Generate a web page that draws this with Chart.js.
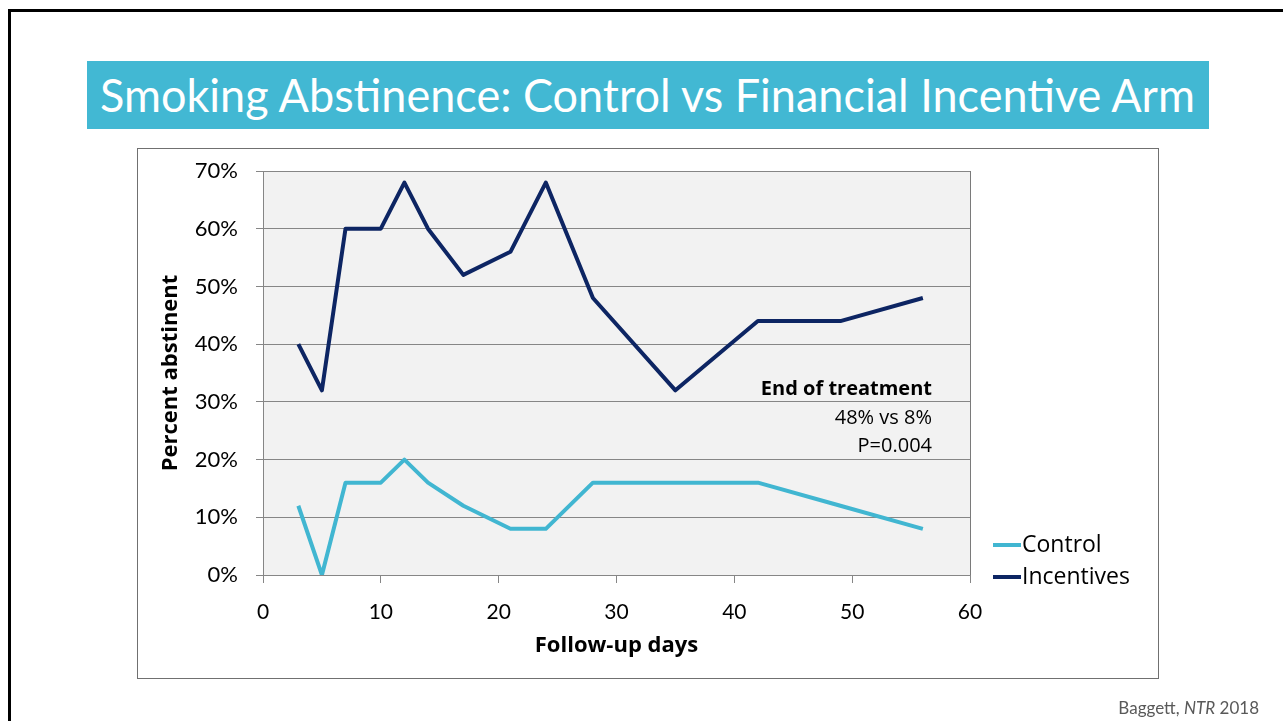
<!DOCTYPE html>
<html>
<head>
<meta charset="utf-8">
<title>Smoking Abstinence: Control vs Financial Incentive Arm</title>
<script src="https://cdn.jsdelivr.net/npm/chart.js@4.4.1/dist/chart.umd.min.js"></script>
<style>
  html, body { margin: 0; padding: 0; width: 1283px; height: 721px; overflow: hidden; background: #fff;
    font-family: Lato, "Open Sans", sans-serif; }
  #frame { position: absolute; left: 8px; top: 9px; width: 1400px; height: 800px; border: 3px solid #000; box-sizing: border-box; }
  #banner { position: absolute; left: 87px; top: 61px; width: 1122px; height: 68px; background: #42b8d3; }
  #title { position: absolute; left: 100px; top: 61px; height: 68px; line-height: 68px; color: #fff;
    font-size: 46px; font-weight: 400; white-space: nowrap; transform-origin: 0 50%; }
  #box { position: absolute; left: 137px; top: 148px; width: 1022px; height: 531px; border: 1px solid #707070; box-sizing: border-box; }
  #chart { position: absolute; left: 0; top: 0; }
  #source { position: absolute; right: 24px; top: 697px; font-size: 17px; color: #595959; white-space: nowrap; }
</style>
</head>
<body>
<div id="frame"></div>
<div id="banner"></div>
<div id="title">Smoking Abstinence: Control vs Financial Incentive Arm</div>
<div id="box"></div>
<canvas id="chart" width="1283" height="721"></canvas>
<div id="source">Baggett, <i>NTR</i> 2018</div>
<script>
// Follow-up day of each assessment and percent abstinent per arm
const days = [3, 5, 7, 10, 12, 14, 17, 21, 24, 28, 35, 42, 49, 56];
const controlPct = [12, 0, 16, 16, 20, 16, 12, 8, 8, 16, 16, 16, 12, 8];
const incentivesPct = [40, 32, 60, 60, 68, 60, 52, 56, 68, 48, 32, 44, 44, 48];
const seriesNames = ['Control', 'Incentives'];
const seriesColors = ['#41b6d1', '#0d2563'];
const xTicks = [0, 10, 20, 30, 40, 50, 60];
const yTicks = [0, 10, 20, 30, 40, 50, 60, 70];
const noteLines = ['End of treatment', '48% vs 8%', 'P=0.004'];

const FONT = 'Lato, "Open Sans", sans-serif';
const FONT2 = '"Open Sans", Lato, sans-serif';
Chart.defaults.font.family = FONT;
Chart.defaults.color = '#000';

// stretch the banner title to the banner width
(function fitTitle() {
  const t = document.getElementById('title');
  const w = t.getBoundingClientRect().width;
  t.style.transform = 'scaleX(' + (1095 / w) + ')';
})();

const toPoints = vals => days.map((d, i) => ({ x: d, y: vals[i] }));

// grey plot background with a right-hand border
const plotFrame = {
  id: 'plotFrame',
  beforeDraw(chart) {
    const { ctx, chartArea: a } = chart;
    ctx.save();
    ctx.fillStyle = '#f2f2f2';
    ctx.fillRect(a.left, a.top, a.right - a.left, a.bottom - a.top);
    ctx.restore();
  },
  beforeDatasetsDraw(chart) {
    const { ctx, chartArea: a } = chart;
    ctx.save();
    ctx.strokeStyle = '#7a7a7a';
    ctx.lineWidth = 1;
    ctx.beginPath();
    ctx.moveTo(a.right + 0.5, a.top);
    ctx.lineTo(a.right + 0.5, a.bottom);
    ctx.stroke();
    ctx.restore();
  }
};

// end-of-treatment note and the line legend at the right
const extras = {
  id: 'extras',
  afterDraw(chart) {
    const { ctx, chartArea: a } = chart;
    ctx.save();
    ctx.fillStyle = '#000';
    ctx.textAlign = 'right';
    ctx.textBaseline = 'middle';
    const nx = a.right - 38;
    const ny = [389, 418, 446];
    noteLines.forEach((s, i) => {
      ctx.font = (i === 0 ? 'bold 20px ' : '20px ') + FONT2;
      ctx.fillText(s, nx, ny[i]);
    });

    const ly = [545, 577];
    chart.data.datasets.forEach((ds, i) => {
      ctx.strokeStyle = ds.borderColor;
      ctx.lineWidth = 4;
      ctx.beginPath();
      ctx.moveTo(a.right + 23, ly[i]);
      ctx.lineTo(a.right + 51, ly[i]);
      ctx.stroke();
      ctx.fillStyle = '#000';
      ctx.textAlign = 'left';
      ctx.font = '23px ' + FONT2;
      ctx.fillText(ds.label, a.right + 52, ly[i]);
    });
    ctx.restore();
  }
};

new Chart(document.getElementById('chart'), {
  type: 'line',
  data: {
    datasets: [
      { label: seriesNames[0], data: toPoints(controlPct), borderColor: seriesColors[0] },
      { label: seriesNames[1], data: toPoints(incentivesPct), borderColor: seriesColors[1] }
    ]
  },
  options: {
    responsive: false,
    animation: false,
    events: [],
    layout: { padding: { top: 171, right: 313, left: 0, bottom: 0 } },
    elements: {
      line: { borderWidth: 4, tension: 0, borderJoinStyle: 'round', borderCapStyle: 'butt', fill: false },
      point: { radius: 0 }
    },
    plugins: { legend: { display: false }, tooltip: { enabled: false } },
    scales: {
      x: {
        type: 'linear', min: 0, max: 60,
        afterBuildTicks: s => { s.ticks = xTicks.map(v => ({ value: v })); },
        afterFit: s => { s.height = 146; },
        grid: { drawOnChartArea: false, drawTicks: true, tickLength: 8, color: '#868686' },
        border: { color: '#868686' },
        ticks: { padding: 17, font: { size: 21 }, color: '#000' },
        title: { display: true, text: 'Follow-up days', font: { family: FONT2, size: 22, weight: 'bold', lineHeight: 1.2 },
          color: '#000', padding: { top: 0, bottom: 62 } }
      },
      y: {
        min: 0, max: 70,
        afterBuildTicks: s => { s.ticks = yTicks.map(v => ({ value: v })); },
        afterFit: s => { s.width = 263; },
        grid: { color: '#868686', tickLength: 7 },
        border: { color: '#868686' },
        ticks: { padding: 18, font: { size: 22 }, color: '#000', callback: v => v + '%' },
        title: { display: true, text: 'Percent abstinent', font: { family: FONT2, size: 22, weight: 'bold', lineHeight: 1.2 },
          color: '#000', padding: { top: 158, bottom: 0 } }
      }
    }
  },
  plugins: [plotFrame, extras]
});
</script>
</body>
</html>
